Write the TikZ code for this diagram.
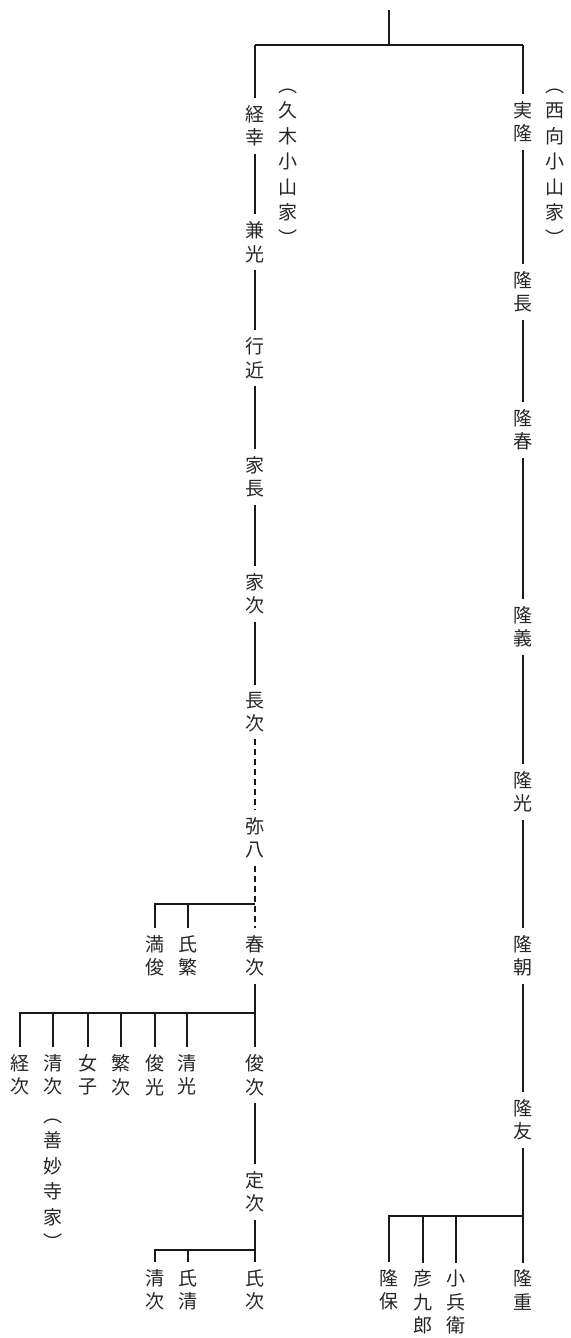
\documentclass[tikz,border=0pt]{standalone}
\usepackage{fontspec}
\setmainfont{Noto Sans CJK JP}
\tikzset{
  nm/.style={font=\fontsize{19}{23.5}\selectfont, align=center, inner sep=7pt, text=black!85},
  note/.style={font=\fontsize{19}{25.5}\selectfont, align=center, inner sep=0pt, text=black!85},
  ln/.style={line width=1.6pt, draw=black!90},
  dsh/.style={ln, dash pattern=on 6pt off 4pt}
}
\begin{document}
\begin{tikzpicture}[x=1pt,y=-1pt]
\useasboundingbox (0,0) rectangle (570,1338);
% left column
\node[nm] (keiko) at (255,126) {経\\幸};
\node[note] (kuki) at (288,167) {︵\\久\\木\\小\\山\\家\\︶};
\node[nm] (kanemitsu) at (255,242) {兼\\光};
\node[nm] (yukichika) at (255,358) {行\\近};
\node[nm] (ienaga) at (255,477) {家\\長};
\node[nm] (ietsugu) at (255,594) {家\\次};
\node[nm] (nagatsugu) at (255,712) {長\\次};
\node[nm] (yahachi) at (255,838) {弥\\八};
\node[nm] (harutsugu) at (255,956) {春\\次};
\node[nm] (mitsutoshi) at (155,956) {満\\俊};
\node[nm] (ujishige) at (188,956) {氏\\繁};
\node[nm] (toshitsugu) at (255,1075) {俊\\次};
\node[nm] (c1) at (20,1075) {経\\次};
\node[nm] (c2) at (53,1075) {清\\次};
\node[note] (zen) at (53,1184) {︵\\善\\妙\\寺\\家\\︶};
\node[nm] (c3) at (88,1075) {女\\子};
\node[nm] (c4) at (121,1075) {繁\\次};
\node[nm] (c5) at (155,1075) {俊\\光};
\node[nm] (c6) at (187,1075) {清\\光};
\node[nm] (sadatsugu) at (255,1192) {定\\次};
\node[nm] (ujitsugu) at (255,1290) {氏\\次};
\node[nm] (kiyotsugu) at (155,1290) {清\\次};
\node[nm] (ujikiyo) at (188,1290) {氏\\清};
% right column
\node[nm] (jitsuryu) at (523,122) {実\\隆};
\node[note] (nishi) at (555,167) {︵\\西\\向\\小\\山\\家\\︶};
\node[nm] (takanaga) at (523,292) {隆\\長};
\node[nm] (takaharu) at (523,430) {隆\\春};
\node[nm] (takayoshi) at (523,627) {隆\\義};
\node[nm] (takamitsu) at (523,792) {隆\\光};
\node[nm] (takatomo) at (523,956) {隆\\朝};
\node[nm] (takatomo2) at (523,1120) {隆\\友};
\node[nm] (takashige) at (523,1290) {隆\\重};
\node[nm] (takayasu) at (389,1290) {隆\\保};
\node[nm] (hikokuro) at (423,1302) {彦\\九\\郎};
\node[nm] (kohyoe) at (456,1302) {小\\兵\\衛};
% coordinates
\coordinate (top) at (389,10);
\coordinate (j0) at (389,45);
\coordinate (cL) at (255,45);
\coordinate (cR) at (523,45);
\coordinate (b1) at (255,904);
\coordinate (b1a) at (155,904);
\coordinate (b1b) at (188,904);
\coordinate (b2) at (255,1013);
\coordinate (b2a) at (20,1013);
\coordinate (b2b) at (53,1013);
\coordinate (b2c) at (88,1013);
\coordinate (b2d) at (121,1013);
\coordinate (b2e) at (155,1013);
\coordinate (b2f) at (187,1013);
\coordinate (b3) at (255,1250);
\coordinate (b3a) at (155,1250);
\coordinate (b3b) at (188,1250);
\coordinate (b4) at (523,1216);
\coordinate (b4a) at (389,1216);
\coordinate (b4b) at (423,1216);
\coordinate (b4c) at (456,1216);
% lines
\draw[ln] (top) -- (j0);
\draw[ln] (cL) -- (cR);
\draw[ln] (cL) -- (keiko);
\draw[ln] (cR) -- (jitsuryu);
\draw[ln] (keiko) -- (kanemitsu);
\draw[ln] (kanemitsu) -- (yukichika);
\draw[ln] (yukichika) -- (ienaga);
\draw[ln] (ienaga) -- (ietsugu);
\draw[ln] (ietsugu) -- (nagatsugu);
\draw[dsh] (nagatsugu) -- (yahachi);
\draw[dsh] (yahachi) -- (harutsugu);
\draw[ln] (b1) -- (b1a) -- (mitsutoshi);
\draw[ln] (b1b) -- (ujishige);
\draw[ln] (harutsugu) -- (toshitsugu);
\draw[ln] (b2) -- (b2a) -- (c1);
\draw[ln] (b2b) -- (c2);
\draw[ln] (b2c) -- (c3);
\draw[ln] (b2d) -- (c4);
\draw[ln] (b2e) -- (c5);
\draw[ln] (b2f) -- (c6);
\draw[ln] (toshitsugu) -- (sadatsugu);
\draw[ln] (sadatsugu) -- (ujitsugu);
\draw[ln] (b3) -- (b3a) -- (kiyotsugu);
\draw[ln] (b3b) -- (ujikiyo);
\draw[ln] (jitsuryu) -- (takanaga);
\draw[ln] (takanaga) -- (takaharu);
\draw[ln] (takaharu) -- (takayoshi);
\draw[ln] (takayoshi) -- (takamitsu);
\draw[ln] (takamitsu) -- (takatomo);
\draw[ln] (takatomo) -- (takatomo2);
\draw[ln] (takatomo2) -- (takashige);
\draw[ln] (b4) -- (b4a) -- (takayasu);
\draw[ln] (b4b) -- (hikokuro.north |- b4b) -- (hikokuro);
\draw[ln] (b4c) -- (kohyoe);
\end{tikzpicture}
\end{document}
